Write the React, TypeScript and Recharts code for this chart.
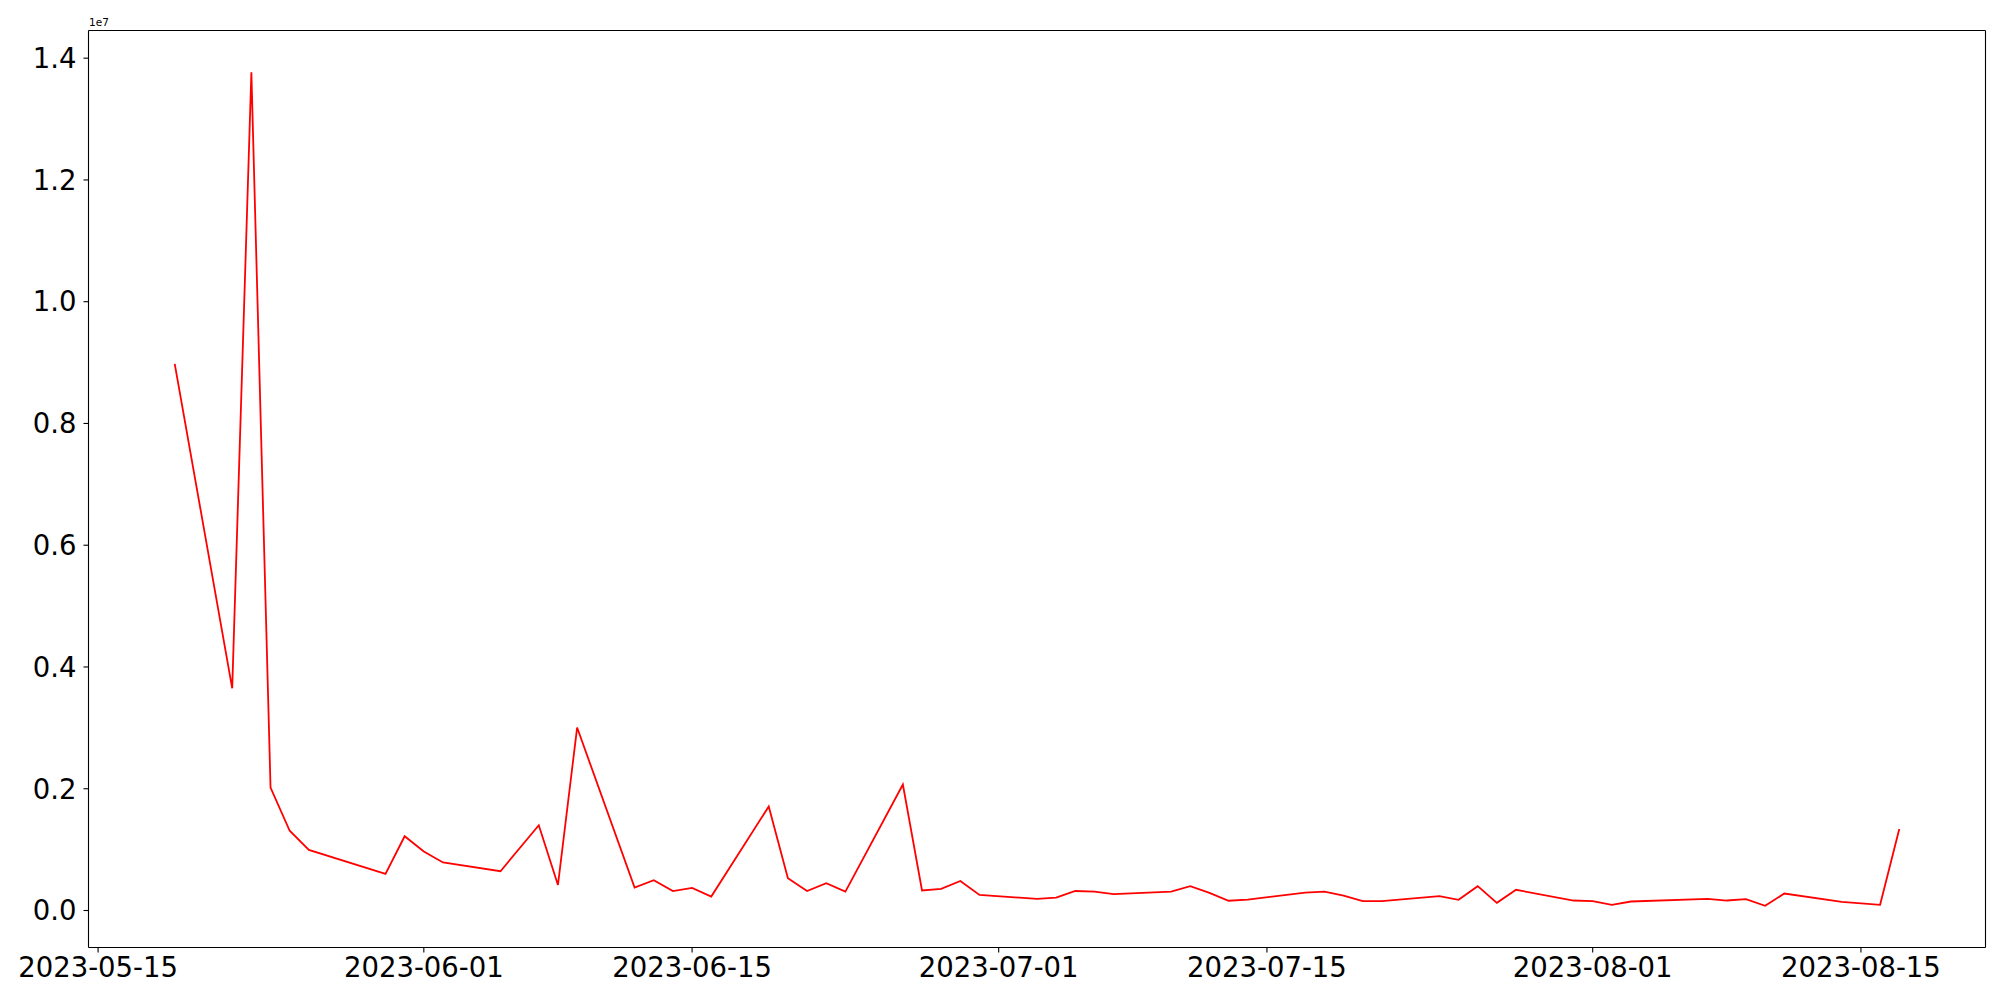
import React from "react";
import {
  LineChart,
  Line,
  XAxis,
  YAxis,
  ReferenceLine,
} from "recharts";

// daily values (scale 1e7 on the axis)
const dates = [
  "2023-05-19", "2023-05-22", "2023-05-23", "2023-05-24", "2023-05-25", "2023-05-26",
  "2023-05-30", "2023-05-31", "2023-06-01", "2023-06-02", "2023-06-05", "2023-06-07",
  "2023-06-08", "2023-06-09", "2023-06-12", "2023-06-13", "2023-06-14", "2023-06-15",
  "2023-06-16", "2023-06-19", "2023-06-20", "2023-06-21", "2023-06-22", "2023-06-23",
  "2023-06-26", "2023-06-27", "2023-06-28", "2023-06-29", "2023-06-30", "2023-07-03",
  "2023-07-04", "2023-07-05", "2023-07-06", "2023-07-07", "2023-07-10", "2023-07-11",
  "2023-07-12", "2023-07-13", "2023-07-14", "2023-07-17", "2023-07-18", "2023-07-19",
  "2023-07-20", "2023-07-21", "2023-07-24", "2023-07-25", "2023-07-26", "2023-07-27",
  "2023-07-28", "2023-07-31", "2023-08-01", "2023-08-02", "2023-08-03", "2023-08-07",
  "2023-08-08", "2023-08-09", "2023-08-10", "2023-08-11", "2023-08-14", "2023-08-16",
  "2023-08-17",
];

const values = [
  8.98e6, 3.65e6, 13.77e6, 2.02e6, 1.31e6, 0.995e6,
  0.6e6, 1.22e6, 0.97e6, 0.79e6, 0.645e6, 1.4e6,
  0.42e6, 3.005e6, 0.377e6, 0.497e6, 0.32e6, 0.37e6,
  0.23e6, 1.71e6, 0.53e6, 0.32e6, 0.45e6, 0.31e6,
  2.07e6, 0.33e6, 0.355e6, 0.486e6, 0.257e6, 0.19e6,
  0.21e6, 0.32e6, 0.31e6, 0.27e6, 0.31e6, 0.4e6,
  0.29e6, 0.16e6, 0.18e6, 0.295e6, 0.31e6, 0.246e6,
  0.153e6, 0.153e6, 0.235e6, 0.175e6, 0.4e6, 0.126e6,
  0.34e6, 0.164e6, 0.153e6, 0.093e6, 0.148e6, 0.19e6,
  0.164e6, 0.186e6, 0.077e6, 0.279e6, 0.142e6, 0.093e6,
  1.34e6,
];

const xTickLabels = [
  "2023-05-15", "2023-06-01", "2023-06-15", "2023-07-01",
  "2023-07-15", "2023-08-01", "2023-08-15",
];

const yTicks = [0, 2e6, 4e6, 6e6, 8e6, 10e6, 12e6, 14e6];

const toTs = (d: string) => Date.parse(d + "T00:00:00Z");

const data = dates.map((d, i) => ({ t: toTs(d), v: values[i] }));

// matplotlib-style 5% margins
const tMin = data[0].t;
const tMax = data[data.length - 1].t;
const tPad = (tMax - tMin) * 0.05;
const xDomain = [tMin - tPad, tMax + tPad];

const vMin = Math.min(...values);
const vMax = Math.max(...values);
const vPad = (vMax - vMin) * 0.05;
const yDomain = [vMin - vPad, vMax + vPad];

const font = "'DejaVu Sans', sans-serif";
const tickStyle = { fontSize: 27.5, fill: "#000", fontFamily: font };

const pad2 = (n: number) => (n < 10 ? "0" + n : "" + n);
function fmtDate(ts: number) {
  const d = new Date(ts);
  return `${d.getUTCFullYear()}-${pad2(d.getUTCMonth() + 1)}-${pad2(d.getUTCDate())}`;
}

export default function App() {
  return (
    <div style={{ position: "relative", width: 1984, height: 984 }}>
      <div
        style={{
          position: "absolute",
          left: 81,
          top: 9,
          fontSize: 10.5,
          lineHeight: "10.5px",
          fontFamily: font,
          color: "#000",
        }}
      >
        1e7
      </div>
      <LineChart
        width={1984}
        height={984}
        data={data}
        margin={{ top: 22.5, right: 6.5, bottom: 0, left: 0.5 }}
      >
        <XAxis
          dataKey="t"
          type="number"
          domain={xDomain}
          ticks={xTickLabels.map(toTs)}
          tickFormatter={fmtDate}
          height={44.5}
          tick={tickStyle}
          tickSize={5}
          tickMargin={5}
          stroke="#000"
          strokeWidth={1.1}
          interval={0}
        />
        <YAxis
          type="number"
          domain={yDomain}
          ticks={yTicks}
          tickFormatter={(v: number) => (v / 1e7).toFixed(1)}
          width={80}
          tick={tickStyle}
          tickSize={5}
          tickMargin={7}
          stroke="#000"
          strokeWidth={1.1}
          interval={0}
        />
        <ReferenceLine y={yDomain[1]} stroke="#000" strokeWidth={1.1} />
        <ReferenceLine x={xDomain[1]} stroke="#000" strokeWidth={1.1} />
        <Line
          type="linear"
          dataKey="v"
          stroke="#ff0000"
          strokeWidth={1.8}
          dot={false}
          isAnimationActive={false}
        />
      </LineChart>
    </div>
  );
}
